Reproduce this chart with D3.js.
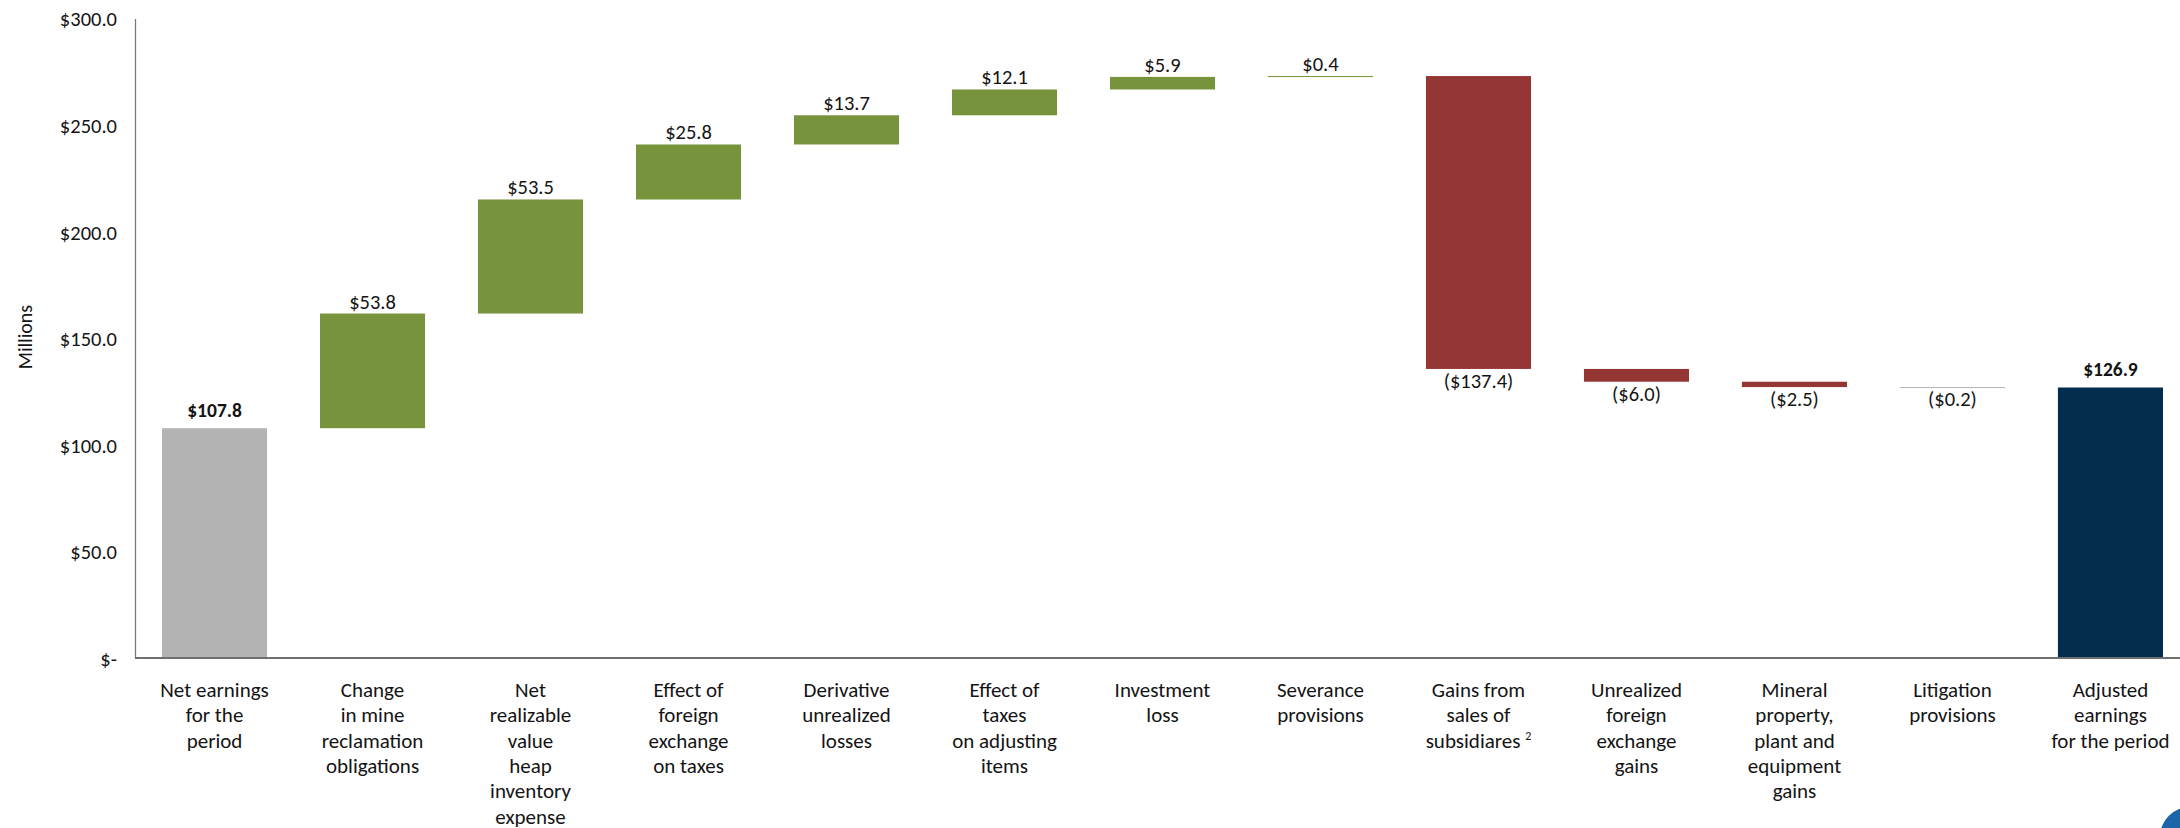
<!DOCTYPE html>
<html>
<head>
<meta charset="utf-8">
<script src="https://cdn.jsdelivr.net/npm/d3@7"></script>
<style>
  html, body { margin: 0; padding: 0; background: #fff; }
  svg { display: block; }
  text { font-family: Calibri, Carlito, "Liberation Sans", Arial, sans-serif; fill: #141414; }
</style>
</head>
<body>
<svg id="chart" width="2180" height="828"></svg>
<script>
// Bridge from net earnings to adjusted earnings (US$ millions)
const categories = [
  "Net earnings\nfor the\nperiod",
  "Change\nin mine\nreclamation\nobligations",
  "Net\nrealizable\nvalue\nheap\ninventory\nexpense",
  "Effect of\nforeign\nexchange\non taxes",
  "Derivative\nunrealized\nlosses",
  "Effect of\ntaxes\non adjusting\nitems",
  "Investment\nloss",
  "Severance\nprovisions",
  "Gains from\nsales of\nsubsidiares ^2",
  "Unrealized\nforeign\nexchange\ngains",
  "Mineral\nproperty,\nplant and\nequipment\ngains",
  "Litigation\nprovisions",
  "Adjusted\nearnings\nfor the period"
];
const startValue = 107.8;
const adjustments = [53.8, 53.5, 25.8, 13.7, 12.1, 5.9, 0.4, -137.4, -6.0, -2.5, -0.2];
const endValue = 126.9;
const yTicks = [0, 50, 100, 150, 200, 250, 300];
const yTitle = "Millions";

const svg = d3.select("#chart");
const W = 2180, H = 828;
const plotLeft = 135, plotTop = 18.5, plotBottom = 658, plotRight = 2190;

// Build waterfall segments
const bars = [];
bars.push({ i: 0, kind: "start", y0: 0, y1: startValue, value: startValue });
let running = startValue;
adjustments.forEach((d, k) => {
  const from = running;
  running = running + d;
  bars.push({ i: k + 1, kind: d >= 0 ? "up" : "down", y0: from, y1: running, value: d });
});
bars.push({ i: categories.length - 1, kind: "end", y0: 0, y1: endValue, value: endValue });

const x = d3.scaleBand()
  .domain(d3.range(categories.length))
  .range([plotLeft, plotRight])
  .paddingInner(0.335)
  .paddingOuter(0.171);

const y = d3.scaleLinear().domain([0, 300]).range([plotBottom, plotTop]);

const fillFor = b => {
  if (b.kind === "start") return "#b3b3b3";
  if (b.kind === "end") return "#022d4f";
  if (Math.abs(b.value) < 0.3) return "#b0b0b0";
  return b.kind === "up" ? "#77933c" : "#943634";
};

// Y axis
const yAxis = d3.axisLeft(y)
  .tickValues(yTicks)
  .tickSize(0)
  .tickPadding(18)
  .tickFormat(v => v === 0 ? "$-" : "$" + d3.format(".1f")(v));
const gy = svg.append("g").attr("transform", `translate(${plotLeft},0)`).call(yAxis);
gy.select(".domain").attr("stroke", "#7a7a7a").attr("stroke-width", 1.3);
gy.selectAll("text")
  .style("font-size", "20.5px")
  .attr("fill", "#141414")
  .attr("dy", "0.36em");

svg.append("text")
  .attr("transform", `translate(25,337) rotate(-90)`)
  .attr("text-anchor", "middle")
  .attr("dy", "0.35em")
  .style("font-size", "20px")
  .text(yTitle);

// Bars
svg.append("g").selectAll("rect")
  .data(bars)
  .join("rect")
  .attr("x", b => x(b.i))
  .attr("width", x.bandwidth())
  .attr("y", b => y(Math.max(b.y0, b.y1)))
  .attr("height", b => Math.max(1, Math.abs(y(b.y0) - y(b.y1))))
  .attr("fill", fillFor);

// X axis line
svg.append("line")
  .attr("x1", plotLeft).attr("x2", W)
  .attr("y1", plotBottom).attr("y2", plotBottom)
  .attr("stroke", "#6f6f6f").attr("stroke-width", 1.8);

// Value labels
const fmtMoney = v => {
  const s = "$" + d3.format(".1f")(Math.abs(v));
  return v < 0 ? "(" + s + ")" : s;
};
const isTotal = b => b.kind === "start" || b.kind === "end";
svg.append("g").selectAll("text")
  .data(bars)
  .join("text")
  .attr("x", b => x(b.i) + x.bandwidth() / 2)
  .attr("y", b => {
    if (isTotal(b)) return y(b.y1) - 11;
    if (b.kind === "up") return y(b.y1) - 5;
    return y(b.y1) + 19;
  })
  .attr("text-anchor", "middle")
  .style("font-size", b => isTotal(b) ? "19.5px" : "20.5px")
  .style("font-weight", b => isTotal(b) ? "bold" : "normal")
  .text(b => fmtMoney(b.value));

// Category labels (multi-line, superscript marked with ^)
const catG = svg.append("g");
categories.forEach((c, i) => {
  const cx = x(i) + x.bandwidth() / 2;
  const t = catG.append("text")
    .attr("x", cx)
    .attr("y", 697)
    .attr("text-anchor", "middle")
    .style("font-size", "21px");
  c.split("\n").forEach((line, k) => {
    const parts = line.split("^");
    const ts = t.append("tspan")
      .attr("x", cx)
      .attr("y", 697 + k * 25.3)
      .text(parts[0]);
    if (parts.length > 1) {
      ts.append("tspan")
        .attr("dy", -8)
        .style("font-size", "12px")
        .text(parts[1]);
    }
  });
});

// Corner mark
svg.append("circle")
  .attr("cx", 2190).attr("cy", 837).attr("r", 30)
  .attr("fill", "#1b66a8");
</script>
</body>
</html>
